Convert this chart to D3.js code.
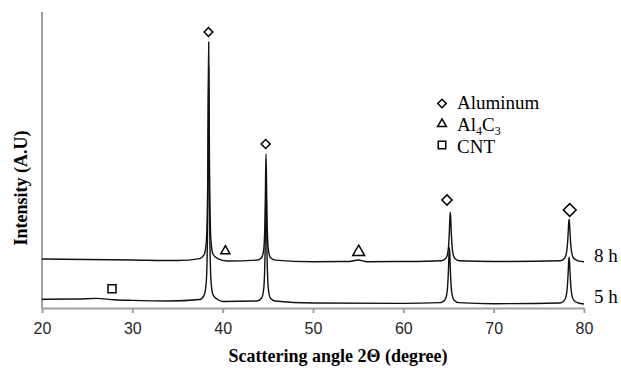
<!DOCTYPE html>
<html>
<head>
<meta charset="utf-8">
<script src="https://cdn.jsdelivr.net/npm/d3@7"></script>
<style>
  html, body { margin: 0; padding: 0; background: #fff; }
  #chart { width: 621px; height: 368px; }
  .tick-label { font-family: "Liberation Sans", Arial, sans-serif; font-size: 16px; fill: #262626; }
  .axis-title { font-family: "Liberation Serif", "Times New Roman", serif; font-size: 18px; font-weight: bold; fill: #000; }
  .legend-text, .series-label { font-family: "Liberation Serif", "Times New Roman", serif; font-size: 19px; fill: #000; }
</style>
</head>
<body>
<div id="chart"></div>
<script>
// 2-theta (degree) and intensity (arbitrary units)
const angle8h = [20, 25, 30, 35, 37.45, 37.95, 38.15, 38.25, 38.35, 38.4, 38.45, 38.5, 38.55, 38.65, 38.75, 38.95, 39.45, 40.5, 43.8, 44.3, 44.5, 44.6, 44.7, 44.75, 44.8, 44.85, 44.9, 45, 45.1, 45.3, 45.8, 50, 54, 55, 56, 60, 64.2, 64.7, 64.9, 65, 65.1, 65.15, 65.2, 65.25, 65.3, 65.4, 65.5, 65.7, 66.2, 70, 77.35, 77.85, 78.05, 78.15, 78.25, 78.3, 78.35, 78.4, 78.45, 78.55, 78.65, 78.85, 79.35, 80];
const intensity8h = [49, 48.5, 48, 47.5, 49.4, 53.5, 62.4, 78, 133, 205, 266, 205, 133, 78, 62.4, 53.5, 49.4, 47, 47.9, 50.3, 55.9, 65, 94.8, 128.7, 154, 128.7, 94.8, 65, 55.9, 50.3, 47.9, 46.3, 46.5, 48, 46.3, 46.5, 47.3, 49.6, 54.3, 61.1, 77.4, 89.4, 95.7, 89.4, 77.4, 61.1, 54.3, 49.6, 47.3, 46.5, 47.2, 49.8, 54.8, 61.6, 75.6, 84.5, 88.7, 84.5, 75.6, 61.6, 54.8, 49.8, 47.2, 46.3];

const angle5h = [20, 24, 26, 28, 30, 34, 37.45, 37.95, 38.15, 38.25, 38.35, 38.4, 38.45, 38.5, 38.55, 38.65, 38.75, 38.95, 39.45, 40, 43.8, 44.3, 44.5, 44.6, 44.7, 44.75, 44.8, 44.85, 44.9, 45, 45.1, 45.3, 45.8, 50, 60, 64.1, 64.6, 64.8, 64.9, 65, 65.05, 65.1, 65.15, 65.2, 65.3, 65.4, 65.6, 66.1, 70, 77.35, 77.85, 78.05, 78.15, 78.25, 78.3, 78.35, 78.4, 78.45, 78.55, 78.65, 78.85, 79.35, 80];
const intensity5h = [8.7, 9, 9.6, 8.2, 7.6, 7, 8.5, 12.9, 22.4, 39.3, 98.3, 175.2, 241, 175.2, 98.3, 39.3, 22.4, 12.9, 8.5, 6.5, 7, 9.7, 16, 26.2, 59.6, 97.7, 126, 97.7, 59.6, 26.2, 16, 9.7, 7, 5, 4.6, 5.4, 8, 13.3, 21.1, 39.5, 53.1, 60.3, 53.1, 39.5, 21.1, 13.3, 8, 5.4, 4.3, 5, 7.9, 13.3, 20.8, 36.3, 46, 50.7, 46, 36.3, 20.8, 13.3, 7.9, 5, 4];

const seriesLabels = ["8 h", "5 h"];
const seriesLabelLevels = [46, 5];

// phase markers: angle, intensity level, symbol kind, symbol area
const markerAngles = [38.43, 44.76, 64.83, 78.42, 40.3, 55.06, 27.75];
const markerLevels = [276, 164, 108, 98, 58, 57, 19.3];
const markerKinds = ["diamond", "diamond", "diamond", "diamond", "triangle", "triangle", "square"];
const markerSizes = [38, 40, 52, 82, 36, 60, 64];

const legendKinds = ["diamond", "triangle", "square"];
const xTicks = [20, 30, 40, 50, 60, 70, 80];

const width = 621, height = 368;
const plot = { left: 42, right: 584, top: 12, bottom: 308 };

const svg = d3.select("#chart").append("svg")
  .attr("width", width)
  .attr("height", height);

const x = d3.scaleLinear().domain([20, 80]).range([plot.left, plot.right]);
const y = d3.scaleLinear().domain([0, 296]).range([plot.bottom, plot.top]);

// axes
svg.append("line")
  .attr("x1", plot.left).attr("x2", plot.left)
  .attr("y1", plot.top).attr("y2", plot.bottom)
  .attr("stroke", "#a0a0a0").attr("stroke-width", 2);

const xAxis = svg.append("g")
  .attr("transform", `translate(0,${plot.bottom})`)
  .call(d3.axisBottom(x).tickValues(xTicks).tickSize(5).tickSizeOuter(0).tickPadding(10));
xAxis.select(".domain").attr("stroke", "#a0a0a0").attr("stroke-width", 2);
xAxis.selectAll(".tick line").attr("stroke", "#a0a0a0").attr("stroke-width", 2);
xAxis.selectAll(".tick text").attr("class", "tick-label").attr("fill", null);
xAxis.attr("font-size", null).attr("font-family", null);

// traces
const line = d3.line()
  .x(d => x(d[0]))
  .y(d => y(d[1]))
  .curve(d3.curveMonotoneX);
const traces = [d3.zip(angle8h, intensity8h), d3.zip(angle5h, intensity5h)];

svg.append("g")
  .selectAll("path")
  .data(traces)
  .enter()
  .append("path")
  .attr("d", line)
  .attr("fill", "none")
  .attr("stroke", "#111")
  .attr("stroke-width", 1.4)
  .attr("stroke-linejoin", "round");

svg.append("g")
  .selectAll("text")
  .data(seriesLabels)
  .enter()
  .append("text")
  .attr("class", "series-label")
  .attr("x", plot.right + 10)
  .attr("y", (d, i) => y(seriesLabelLevels[i]))
  .text(d => d);

function symbolPath(kind, size) {
  const type = kind === "triangle" ? d3.symbolTriangle : d3.symbolSquare;
  return d3.symbol().type(type).size(size)();
}

function symbolTransform(kind, px, py) {
  if (kind === "diamond") return `translate(${px},${py}) rotate(45)`;
  if (kind === "triangle") return `translate(${px},${py + 1})`;
  return `translate(${px},${py})`;
}

svg.append("g")
  .selectAll("path")
  .data(markerAngles)
  .enter()
  .append("path")
  .attr("d", (d, i) => symbolPath(markerKinds[i], markerSizes[i]))
  .attr("transform", (d, i) => symbolTransform(markerKinds[i], x(d), y(markerLevels[i])))
  .attr("fill", "#fff")
  .attr("stroke", "#000")
  .attr("stroke-width", 1.5);

// legend
const legend = svg.append("g").attr("transform", "translate(442,0)");
const legendRows = [103.5, 123, 145];
const legendSizes = [36, 34, 56];

legend.selectAll("path")
  .data(legendKinds)
  .enter()
  .append("path")
  .attr("d", (d, i) => symbolPath(d, legendSizes[i]))
  .attr("transform", (d, i) => symbolTransform(d, 0, legendRows[i]))
  .attr("fill", "#fff")
  .attr("stroke", "#000")
  .attr("stroke-width", 1.5);

legend.append("text").attr("class", "legend-text")
  .attr("x", 15).attr("y", 108.5).text("Aluminum");

const al = legend.append("text").attr("class", "legend-text")
  .attr("x", 15).attr("y", 130.5);
al.append("tspan").text("Al");
al.append("tspan").attr("dy", 4).attr("font-size", "12px").text("4");
al.append("tspan").attr("dy", -4).text("C");
al.append("tspan").attr("dy", 4).attr("font-size", "12px").text("3");

legend.append("text").attr("class", "legend-text")
  .attr("x", 15).attr("y", 153).text("CNT");

// axis titles
svg.append("text")
  .attr("class", "axis-title")
  .attr("x", 338)
  .attr("y", 362)
  .attr("text-anchor", "middle")
  .text("Scattering angle 2\u0398 (degree)");

svg.append("text")
  .attr("class", "axis-title")
  .attr("transform", "translate(27,188) rotate(-90)")
  .attr("text-anchor", "middle")
  .text("Intensity (A.U)");
</script>
</body>
</html>
